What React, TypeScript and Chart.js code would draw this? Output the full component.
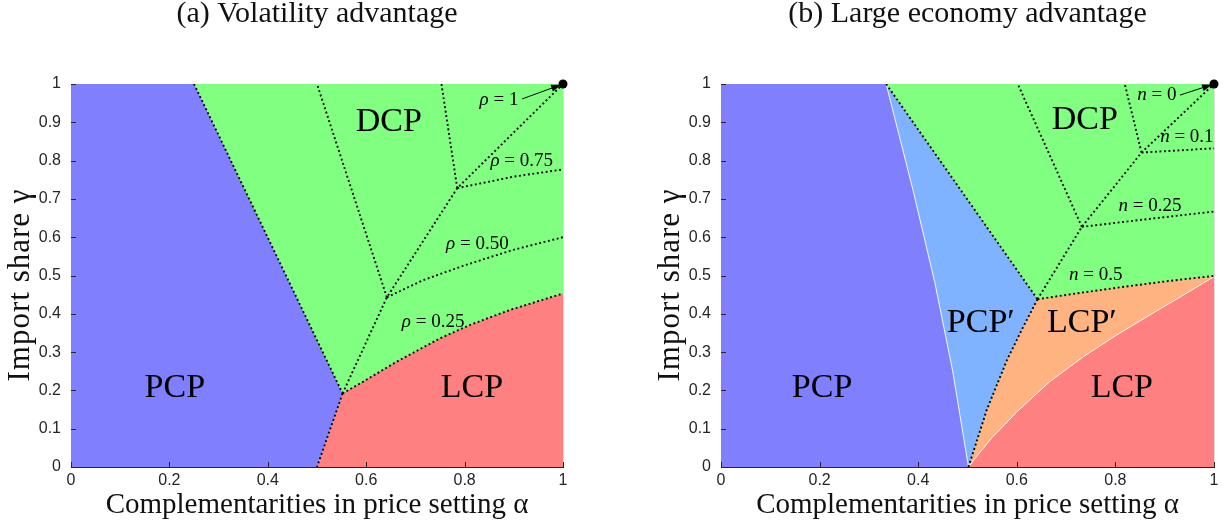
import React, { useEffect, useRef } from "react";
import { Chart, registerables } from "chart.js";

Chart.register(...registerables);

// ---------------- shared axis data ----------------
const xTickValues = [0, 0.2, 0.4, 0.6, 0.8, 1];
const xTickLabels = ["0", "0.2", "0.4", "0.6", "0.8", "1"];
const yTickLabels = ["0", "0.1", "0.2", "0.3", "0.4", "0.5", "0.6", "0.7", "0.8", "0.9", "1"];
const xAxisTitle = "Complementarities in price setting α";
const yAxisTitle = "Import share γ";

// colours
const cPCP = "#8080ff";
const cDCP = "#80ff80";
const cLCP = "#ff8080";
const cPCPp = "#80b3ff";
const cLCPp = "#ffb380";

// ---------------- Panel (a): Volatility advantage ----------------
const aTitle = "(a) Volatility advantage";
// kink points along the rising diagonal (ρ = 0.25, 0.50, 0.75, 1)
const aKinkX = [0.552, 0.642, 0.785, 1.0];
const aKinkY = [0.192, 0.443, 0.728, 1.0];
// where the upward lines from each kink meet γ = 1
const aTopX = [0.25, 0.5, 0.753];
const aPcpBottomX = 0.5;
// ρ curves running right from each kink
const aRho025X = [0.552, 0.594, 0.662, 0.75, 0.811, 0.892, 1.0];
const aRho025Y = [0.192, 0.223, 0.275, 0.336, 0.371, 0.41, 0.453];
const aRho050X = [0.642, 0.716, 0.801, 0.899, 1.0];
const aRho050Y = [0.443, 0.488, 0.527, 0.567, 0.6];
const aRho075X = [0.785, 0.899, 1.0];
const aRho075Y = [0.728, 0.758, 0.777];
// labels
const aRegionNames = ["PCP", "DCP", "LCP"];
const aRegionX = [0.211, 0.646, 0.815];
const aRegionY = [0.206, 0.9, 0.206];
const aCurveSym = "ρ";
const aCurveVals = ["1", "0.75", "0.50", "0.25"];
const aCurveX = [0.87, 0.916, 0.826, 0.736];
const aCurveY = [0.958, 0.799, 0.581, 0.379];
const aArrowFrom = { x: 0.917, y: 0.961 };

// ---------------- Panel (b): Large economy advantage ----------------
const bTitle = "(b) Large economy advantage";
const bKinkX = [0.642, 0.732, 0.853, 1.0];
const bKinkY = [0.438, 0.627, 0.821, 1.0];
const bTopX = [0.335, 0.602, 0.819];
const bN05X = [0.642, 0.72, 0.82, 0.91, 1.0];
const bN05Y = [0.438, 0.453, 0.471, 0.486, 0.499];
const bN025X = [0.732, 0.877, 1.0];
const bN025Y = [0.627, 0.649, 0.667];
const bN01X = [0.853, 1.0];
const bN01Y = [0.821, 0.832];
// PCP / PCP' boundary (white)
const bPcpX = [0.335, 0.39, 0.434, 0.47, 0.502];
const bPcpY = [1.0, 0.72, 0.48, 0.25, 0.0];
// PCP' / LCP' boundary (dotted)
const bPcpLcpX = [0.502, 0.539, 0.58, 0.613, 0.642];
const bPcpLcpY = [0.0, 0.149, 0.279, 0.366, 0.438];
// LCP' / LCP boundary (white)
const bLcpX = [0.502, 0.52, 0.55, 0.6, 0.667, 0.735, 0.803, 0.87, 0.938, 1.0];
const bLcpY = [0.0, 0.03, 0.077, 0.144, 0.223, 0.288, 0.345, 0.397, 0.449, 0.497];
const bRegionNames = ["PCP", "DCP", "PCP′", "LCP′", "LCP"];
const bRegionX = [0.205, 0.738, 0.527, 0.732, 0.813];
const bRegionY = [0.206, 0.906, 0.376, 0.376, 0.205];
const bCurveSym = "n";
const bCurveVals = ["0", "0.1", "0.25", "0.5"];
const bCurveX = [0.884, 0.945, 0.87, 0.76];
const bCurveY = [0.971, 0.862, 0.681, 0.501];
const bArrowFrom = { x: 0.931, y: 0.971 };

type P = { x: number; y: number };
const zip = (xs: number[], ys: number[]): P[] => xs.map((x, i) => ({ x, y: ys[i] }));
const line = (...pts: P[]) => pts;

function buildA() {
  const k = zip(aKinkX, aKinkY);
  const r25 = zip(aRho025X, aRho025Y);
  const r50 = zip(aRho050X, aRho050Y);
  const r75 = zip(aRho075X, aRho075Y);
  const regions = [
    { color: cDCP, pts: line({ x: 0, y: 0 }, { x: 1, y: 0 }, { x: 1, y: 1 }, { x: 0, y: 1 }) },
    { color: cLCP, pts: [{ x: aPcpBottomX, y: 0 }, ...r25, { x: 1, y: 0 }] },
    { color: cPCP, pts: line({ x: 0, y: 0 }, { x: aPcpBottomX, y: 0 }, k[0], { x: aTopX[0], y: 1 }, { x: 0, y: 1 }) },
  ];
  const dotted = [
    line({ x: aTopX[0], y: 1 }, k[0]),
    line(k[0], { x: aPcpBottomX, y: 0 }),
    r25,
    k,
    line(k[1], { x: aTopX[1], y: 1 }),
    r50,
    line(k[2], { x: aTopX[2], y: 1 }),
    r75,
  ];
  return {
    title: aTitle,
    regions,
    dotted,
    white: [] as P[][],
    regionLabels: aRegionNames.map((t, i) => ({ t, x: aRegionX[i], y: aRegionY[i] })),
    curveLabels: aCurveVals.map((v, i) => ({ s: aCurveSym, v, x: aCurveX[i], y: aCurveY[i] })),
    arrowFrom: aArrowFrom,
    dot: { x: 1, y: 1 },
  };
}

function buildB() {
  const k = zip(bKinkX, bKinkY);
  const n05 = zip(bN05X, bN05Y);
  const n025 = zip(bN025X, bN025Y);
  const n01 = zip(bN01X, bN01Y);
  const pcp = zip(bPcpX, bPcpY);
  const pl = zip(bPcpLcpX, bPcpLcpY);
  const lcp = zip(bLcpX, bLcpY);
  const regions = [
    { color: cDCP, pts: line({ x: 0, y: 0 }, { x: 1, y: 0 }, { x: 1, y: 1 }, { x: 0, y: 1 }) },
    { color: cLCPp, pts: [...pl, ...n05.slice(1), { x: 1, y: 0 }] },
    { color: cLCP, pts: [...lcp, { x: 1, y: 0 }] },
    { color: cPCPp, pts: [{ x: bTopX[0], y: 1 }, k[0], ...pl.slice().reverse().slice(1), ...pcp.slice().reverse().slice(1)] },
    { color: cPCP, pts: [{ x: 0, y: 0 }, ...pcp.slice().reverse(), { x: 0, y: 1 }] },
  ];
  const dotted = [
    line({ x: bTopX[0], y: 1 }, k[0]),
    pl,
    n05,
    k,
    line(k[1], { x: bTopX[1], y: 1 }),
    n025,
    line(k[2], { x: bTopX[2], y: 1 }),
    n01,
  ];
  return {
    title: bTitle,
    regions,
    dotted,
    white: [pcp, lcp],
    regionLabels: bRegionNames.map((t, i) => ({ t, x: bRegionX[i], y: bRegionY[i] })),
    curveLabels: bCurveVals.map((v, i) => ({ s: bCurveSym, v, x: bCurveX[i], y: bCurveY[i] })),
    arrowFrom: bArrowFrom,
    dot: { x: 1, y: 1 },
  };
}

const SERIF = '"Liberation Serif", "DejaVu Serif", serif';
const SANS = '"Liberation Sans", Arial, sans-serif';
const GRID = "rgba(38,38,38,0.15)";
const AXIS = "#262626";

function Panel(props: { spec: any; left: number; width: number; plotLeft: number; plotRight: number }) {
  const { spec, left, width, plotLeft, plotRight } = props;
  const H = 527;
  const plotTop = 84;
  const plotBottom = 467;
  const ref = useRef<HTMLCanvasElement>(null);

  useEffect(() => {
    const datasets: any[] = [];
    spec.regions.forEach((r: any, i: number) =>
      datasets.push({
        data: r.pts,
        backgroundColor: r.color,
        borderColor: "rgba(0,0,0,0)",
        borderWidth: 0,
        fill: "shape",
        pointRadius: 0,
        tension: 0,
        order: 100 - i,
      })
    );
    spec.white.forEach((w: P[]) =>
      datasets.push({
        data: w,
        borderColor: "rgba(255,255,255,0.9)",
        borderWidth: 1,
        fill: false,
        pointRadius: 0,
        tension: 0,
        order: 5,
      })
    );
    spec.dotted.forEach((d: P[]) =>
      datasets.push({
        data: d,
        borderColor: "#000",
        borderWidth: 1.9,
        borderDash: [1.9, 2.6],
        fill: false,
        pointRadius: 0,
        tension: 0,
        order: 1,
      })
    );

    const overlay = {
      id: "overlay",
      afterDraw(chart: any) {
        const ctx = chart.ctx as CanvasRenderingContext2D;
        const xs = chart.scales.x;
        const ys = chart.scales.y;
        const ca = chart.chartArea;
        ctx.save();
        // inward tick marks
        ctx.strokeStyle = AXIS;
        ctx.lineWidth = 1;
        xs.ticks.forEach((t: any) => {
          const px = Math.round(xs.getPixelForValue(t.value)) + 0.5;
          ctx.beginPath();
          ctx.moveTo(px, ca.bottom);
          ctx.lineTo(px, ca.bottom - 5);
          ctx.stroke();
        });
        ys.ticks.forEach((t: any) => {
          const py = Math.round(ys.getPixelForValue(t.value)) + 0.5;
          ctx.beginPath();
          ctx.moveTo(ca.left, py);
          ctx.lineTo(ca.left + 5, py);
          ctx.stroke();
        });
        // y-axis title (rotated)
        ctx.save();
        ctx.fillStyle = "#111";
        ctx.font = `31px ${SERIF}`;
        (ctx as any).letterSpacing = "1px";
        ctx.textAlign = "center";
        ctx.textBaseline = "middle";
        ctx.translate(21, 285);
        ctx.rotate(-Math.PI / 2);
        ctx.fillText(yAxisTitle, 0, 0);
        ctx.restore();
        // title
        ctx.fillStyle = "#111";
        ctx.textAlign = "center";
        ctx.textBaseline = "alphabetic";
        ctx.font = `30px ${SERIF}`;
        ctx.fillText(spec.title, (ca.left + ca.right) / 2, 22);
        // region labels
        ctx.fillStyle = "#000";
        ctx.textBaseline = "middle";
        ctx.font = `34px ${SERIF}`;
        spec.regionLabels.forEach((l: any) => {
          ctx.fillText(l.t, xs.getPixelForValue(l.x), ys.getPixelForValue(l.y));
        });
        // curve labels: italic symbol + " = value"
        spec.curveLabels.forEach((l: any) => {
          const fi = `italic 19px ${SERIF}`;
          const fr = `19px ${SERIF}`;
          ctx.font = fi;
          const w1 = ctx.measureText(l.s).width;
          ctx.font = fr;
          const rest = " = " + l.v;
          const w2 = ctx.measureText(rest).width;
          const x0 = xs.getPixelForValue(l.x) - (w1 + w2) / 2;
          const y0 = ys.getPixelForValue(l.y);
          ctx.textAlign = "left";
          ctx.font = fi;
          ctx.fillText(l.s, x0, y0);
          ctx.font = fr;
          ctx.fillText(rest, x0 + w1, y0);
        });
        // arrow and dot
        const dx = xs.getPixelForValue(spec.dot.x);
        const dy = ys.getPixelForValue(spec.dot.y);
        const sx = xs.getPixelForValue(spec.arrowFrom.x);
        const sy = ys.getPixelForValue(spec.arrowFrom.y);
        const ang = Math.atan2(dy - sy, dx - sx);
        const tipX = dx - Math.cos(ang) * 2;
        const tipY = dy - Math.sin(ang) * 2;
        ctx.strokeStyle = "#000";
        ctx.lineWidth = 1;
        ctx.beginPath();
        ctx.moveTo(sx, sy);
        ctx.lineTo(tipX - Math.cos(ang) * 6, tipY - Math.sin(ang) * 6);
        ctx.stroke();
        ctx.fillStyle = "#000";
        ctx.beginPath();
        ctx.moveTo(tipX, tipY);
        ctx.lineTo(tipX - Math.cos(ang) * 10 - Math.sin(ang) * 3.5, tipY - Math.sin(ang) * 10 + Math.cos(ang) * 3.5);
        ctx.lineTo(tipX - Math.cos(ang) * 10 + Math.sin(ang) * 3.5, tipY - Math.sin(ang) * 10 - Math.cos(ang) * 3.5);
        ctx.closePath();
        ctx.fill();
        ctx.beginPath();
        ctx.arc(dx, dy, 4.5, 0, Math.PI * 2);
        ctx.fill();
        ctx.restore();
      },
    };

    const chart = new Chart(ref.current as HTMLCanvasElement, {
      type: "line",
      data: { datasets },
      plugins: [overlay],
      options: {
        responsive: false,
        animation: false,
        devicePixelRatio: 1,
        events: [],
        layout: { padding: { left: 0, right: width - plotRight, top: plotTop, bottom: 0 } },
        plugins: { legend: { display: false }, tooltip: { enabled: false }, title: { display: false } },
        scales: {
          x: {
            type: "linear",
            min: 0,
            max: 1,
            z: 1,
            afterBuildTicks: (s: any) => {
              s.ticks = xTickValues.map((v) => ({ value: v }));
            },
            ticks: {
              callback: (_v: any, i: number) => xTickLabels[i],
              font: { family: SANS, size: 16 },
              color: "#262626",
              padding: 4,
              maxRotation: 0,
              autoSkip: false,
            },
            grid: { color: GRID, drawTicks: false },
            border: { color: AXIS, width: 1 },
            title: {
              display: true,
              text: xAxisTitle,
              font: { family: SERIF, size: 29 },
              color: "#111",
              padding: { top: 0, bottom: 4 },
            },
            afterFit: (s: any) => {
              s.height = H - plotBottom;
            },
          },
          y: {
            type: "linear",
            min: 0,
            max: 1,
            z: 1,
            ticks: {
              stepSize: 0.1,
              callback: (_v: any, i: number) => yTickLabels[i],
              font: { family: SANS, size: 16 },
              color: "#262626",
              padding: 10,
              autoSkip: false,
            },
            grid: { color: GRID, drawTicks: false },
            border: { color: AXIS, width: 1 },
            title: { display: false, text: yAxisTitle },
            afterFit: (s: any) => {
              s.width = plotLeft;
            },
          },
        },
      } as any,
    });
    return () => chart.destroy();
  }, []);

  return (
    <canvas
      ref={ref}
      width={width}
      height={H}
      style={{ position: "absolute", left, top: 0, width, height: H }}
    />
  );
}

export default function App() {
  const a = buildA();
  const b = buildB();
  return (
    <div style={{ position: "absolute", left: 0, top: 0, width: 1223, height: 527, background: "#fff" }}>
      <Panel spec={a} left={0} width={611} plotLeft={71} plotRight={563} />
      <Panel spec={b} left={650} width={573} plotLeft={71} plotRight={564} />
    </div>
  );
}
